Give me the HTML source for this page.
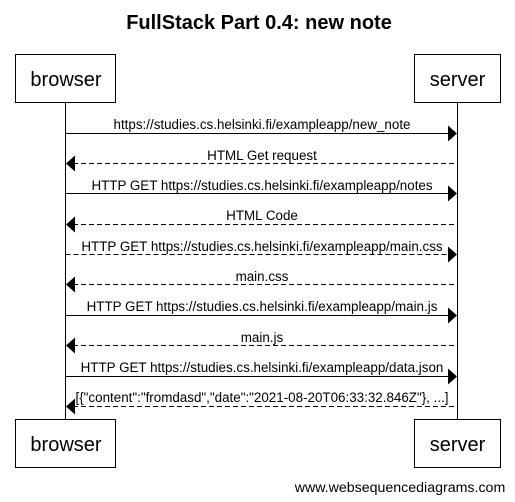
<!DOCTYPE html>
<html><head><meta charset="utf-8"><style>
html,body{margin:0;padding:0;background:#fff;}
svg{display:block;font-family:"Liberation Sans",Arial,sans-serif;}
</style></head><body>
<svg width="515" height="502" viewBox="0 0 515 502" xmlns="http://www.w3.org/2000/svg">
<text x="259" y="29" text-anchor="middle" font-size="20" font-weight="bold" fill="#000">FullStack Part 0.4: new note</text>
<g stroke="#000" stroke-width="1" fill="#fff">
<line x1="65.5" y1="102" x2="65.5" y2="420"/>
<line x1="457.5" y1="102" x2="457.5" y2="420"/>
<rect x="15.5" y="54.5" width="100" height="48"/>
<rect x="414.5" y="54.5" width="86" height="48"/>
<rect x="15.5" y="419.5" width="100" height="48"/>
<rect x="414.5" y="419.5" width="86" height="48"/>
</g>
<g font-size="20" text-anchor="middle" fill="#000">
<text x="66" y="86">browser</text>
<text x="457.5" y="86">server</text>
<text x="66" y="451">browser</text>
<text x="457.5" y="451">server</text>
</g>
<g stroke="#000" stroke-width="1">
<line x1="65.5" y1="133.5" x2="450" y2="133.5"/>
<line x1="73" y1="163.5" x2="457" y2="163.5" stroke-dasharray="5,3"/>
<line x1="65.5" y1="193.5" x2="450" y2="193.5"/>
<line x1="73" y1="224.5" x2="457" y2="224.5" stroke-dasharray="5,3"/>
<line x1="65.5" y1="254.5" x2="450" y2="254.5" stroke-dasharray="5,3"/>
<line x1="73" y1="284.5" x2="457" y2="284.5" stroke-dasharray="5,3"/>
<line x1="65.5" y1="315.5" x2="450" y2="315.5"/>
<line x1="73" y1="345.5" x2="457" y2="345.5" stroke-dasharray="5,3"/>
<line x1="65.5" y1="376.5" x2="450" y2="376.5"/>
<line x1="73" y1="406.5" x2="457" y2="406.5" stroke-dasharray="5,3"/>
</g>
<g fill="#000">
<polygon points="448,125.5 457,133.5 448,141.5"/>
<polygon points="75,155.5 66,163.5 75,171.5"/>
<polygon points="448,185.5 457,193.5 448,201.5"/>
<polygon points="75,216.5 66,224.5 75,232.5"/>
<polygon points="448,246.5 457,254.5 448,262.5"/>
<polygon points="75,276.5 66,284.5 75,292.5"/>
<polygon points="448,307.5 457,315.5 448,323.5"/>
<polygon points="75,337.5 66,345.5 75,353.5"/>
<polygon points="448,368.5 457,376.5 448,384.5"/>
<polygon points="75,398.5 66,406.5 75,414.5"/>
</g>
<g font-size="13.4" text-anchor="middle" fill="#000">
<text x="262" y="129">https://studies.cs.helsinki.fi/exampleapp/new_note</text>
<text x="262" y="160">HTML Get request</text>
<text x="262" y="190">HTTP GET https://studies.cs.helsinki.fi/exampleapp/notes</text>
<text x="262" y="220">HTML Code</text>
<text x="262" y="251">HTTP GET https://studies.cs.helsinki.fi/exampleapp/main.css</text>
<text x="262" y="281">main.css</text>
<text x="262" y="311">HTTP GET https://studies.cs.helsinki.fi/exampleapp/main.js</text>
<text x="262" y="342">main.js</text>
<text x="262" y="372">HTTP GET https://studies.cs.helsinki.fi/exampleapp/data.json</text>
<text x="262" y="402">[{"content":"fromdasd","date":"2021-08-20T06:33:32.846Z"}, ...]</text>
</g>
<text x="400" y="492" font-size="14.2" text-anchor="middle" fill="#000">www.websequencediagrams.com</text>
</svg>
</body></html>
